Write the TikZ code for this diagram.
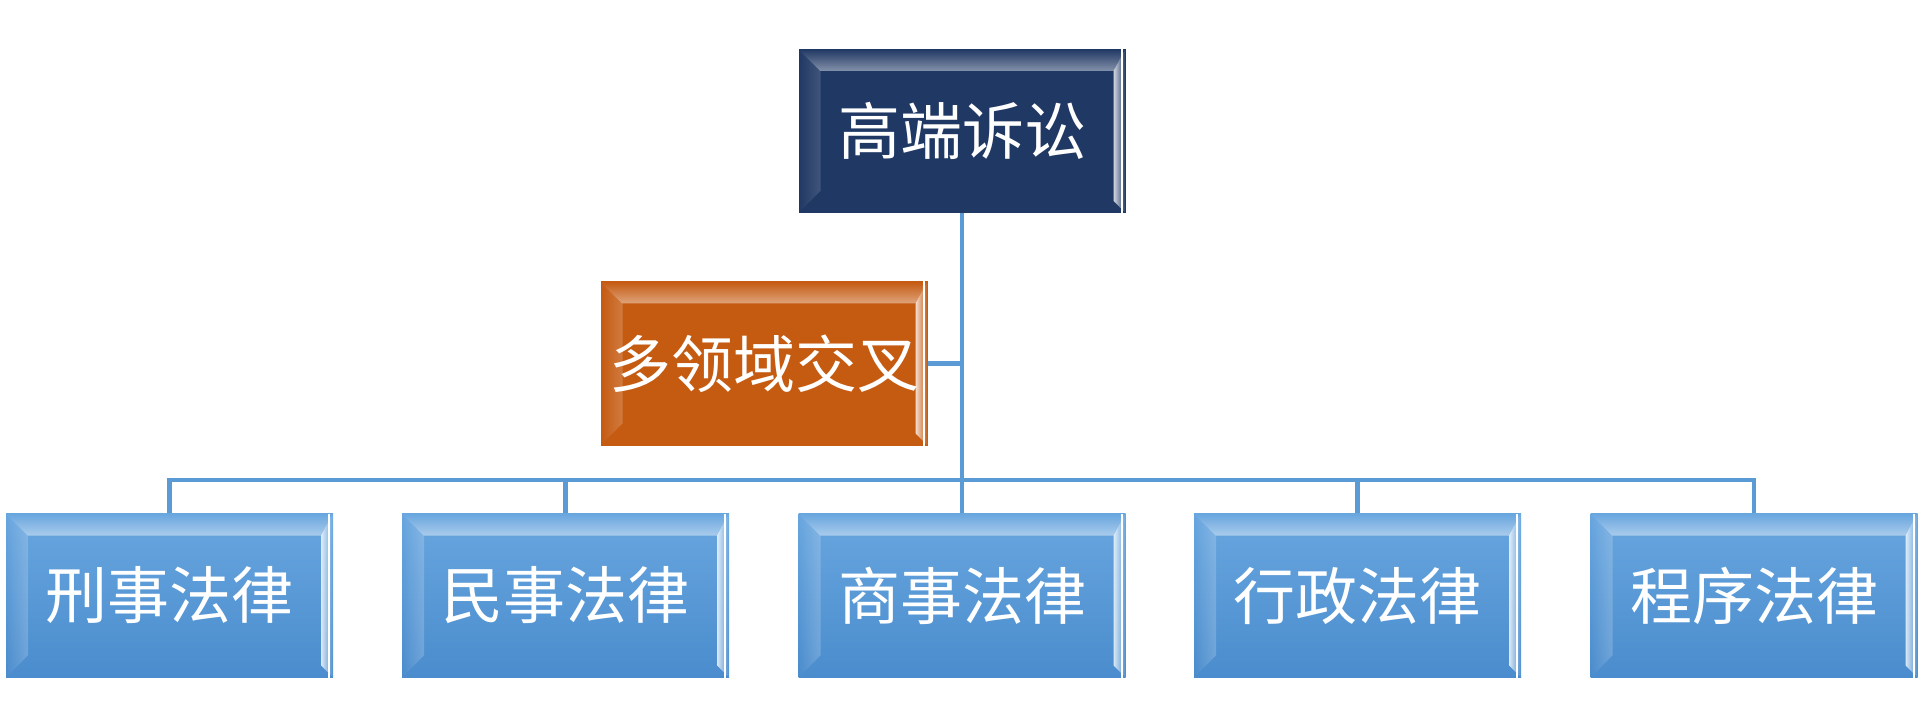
\documentclass[tikz,border=0pt]{standalone}
\usepackage{fontspec}
\usetikzlibrary{fadings}
\newfontfamily\cjk{Noto Sans CJK SC}
\definecolor{linec}{HTML}{5B9BD5}
\definecolor{navybase}{HTML}{203864}
\definecolor{orbase}{HTML}{C55A11}
\definecolor{bltopfill}{HTML}{68A6DF}
\definecolor{blbotfill}{HTML}{4A8CCD}
\newcommand\bevdraw[3]{% #1 top opacity, #2 left opacity, #3 edge colour
  \coordinate (bNW) at (path picture bounding box.north west);
  \coordinate (bNE) at (path picture bounding box.north east);
  \coordinate (bSW) at (path picture bounding box.south west);
  \coordinate (bSE) at (path picture bounding box.south east);
  \fill[white, fill opacity=#2, path fading=west] (bNW) -- ([shift={(22pt,-22pt)}]bNW) -- ([shift={(22pt,22pt)}]bSW) -- (bSW) -- cycle;
  \fill[white, fill opacity=#1, path fading=north] (bNW) -- (bNE) -- ([shift={(-12pt,-22pt)}]bNE) -- ([shift={(22pt,-22pt)}]bNW) -- cycle;
  \fill[#3, fill opacity=0.8, path fading=east] ([shift={(-12pt,-22pt)}]bNE) -- (bNE) -- (bSE) -- ([shift={(-12pt,12pt)}]bSE) -- cycle;
  \draw[#3, line width=2pt] ([xshift=-4pt]bNE) -- ([xshift=-4pt]bSE);
}
\tikzset{
  bevel/.style={rectangle, minimum width=327pt, minimum height=164pt, inner sep=0pt,
    text=white, font=\cjk\fontsize{62}{70}\selectfont},
  navybox/.style={bevel, fill=navybase, path picture={\bevdraw{0.45}{0.15}{white}}},
  orbox/.style={bevel, fill=orbase, path picture={\bevdraw{0.45}{0.2}{white}}},
  blbox/.style={bevel, top color=bltopfill, bottom color=blbotfill, path picture={\bevdraw{0.45}{0.2}{white}}},
  conn/.style={draw=linec, line width=4.5pt}
}
\begin{document}
\begin{tikzpicture}[x=1pt,y=-1pt]
\useasboundingbox (0,0) rectangle (1923,727);
\node[navybox] (top) at (962,131) {高端诉讼};
\node[orbox] (cross) at (764,363.5) {多领域交叉};
\node[blbox] (b1) at (169.5,595.5) {刑事法律};
\node[blbox] (b2) at (565.5,595.5) {民事法律};
\node[blbox] (b3) at (962,595.5) {商事法律};
\node[blbox] (b4) at (1357.5,595.5) {行政法律};
\node[blbox] (b5) at (1754,595.5) {程序法律};
\coordinate (bus) at (962,480);
\draw[conn] (top.south) -- (b3.north);
\draw[conn] (cross.east) -- (cross.east -| top.south);
\draw[conn] (b1.north) |- (bus);
\draw[conn] (b2.north) |- (bus);
\draw[conn] (b4.north) |- (bus);
\draw[conn] (b5.north) |- (bus);
\end{tikzpicture}
\end{document}
